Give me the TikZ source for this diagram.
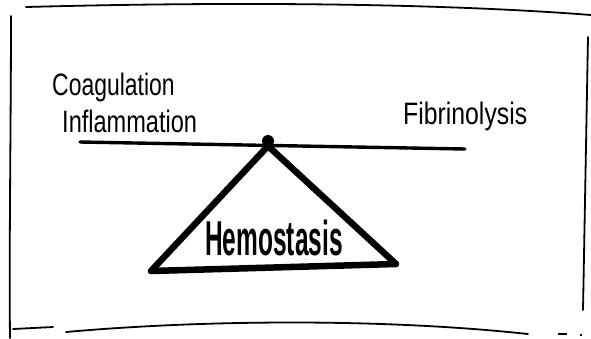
\documentclass[tikz,border=0pt]{standalone}
\usepackage{fontspec}
\usepackage{graphicx}
\setmainfont{Liberation Sans}
\tikzset{
  frameline/.style={line width=1.8pt, line cap=round, black},
  beamline/.style={line width=3.4pt, line cap=round, black},
  triline/.style={line width=6.5pt, line join=round, line cap=round, black},
  label/.style={inner sep=0pt, anchor=base west, text=black},
}
\begin{document}
\begin{tikzpicture}[x=1pt, y=-1pt]
\useasboundingbox (0,0) rectangle (591,338);
\fill[white] (0,0) rectangle (591,338);
% frame
\draw[frameline] (26,7) .. controls (250,1) and (450,4) .. (591,15);
\draw[frameline] (11,16) .. controls (11,120) and (9,250) .. (10,338);
\draw[frameline] (588,37) -- (583,310);
\draw[frameline] (13,329) -- (53,327);
\draw[frameline] (66,332) .. controls (200,320) and (380,318) .. (528,334);
\draw[line width=1.2pt] (558,334) -- (567,334);
\draw[line width=1.2pt] (580,335) -- (582,335);
% balance
\coordinate (apex) at (268,146);
\coordinate (bl) at (151,271);
\coordinate (br) at (396,264);
\coordinate (beamL) at (80,142);
\coordinate (beamR) at (465,149);
\draw[beamline] (beamL) -- (beamR);
\draw[triline] (apex) -- (br) -- (bl) -- cycle;
\node[circle, fill=black, inner sep=0pt, minimum size=12pt] (pivot) at (268,141) {};
% labels
\node[label] (coag) at (52,95) {\scalebox{0.74}[1]{\fontsize{31}{32}\selectfont Coagulation}};
\node[label] (infl) at (62,132) {\scalebox{0.76}[1]{\fontsize{31}{32}\selectfont Inflammation}};
\node[label] (fibr) at (403,124) {\scalebox{0.80}[1]{\fontsize{31}{32}\selectfont Fibrinolysis}};
\node[label] (hemo) at (205,255) {\scalebox{0.5}[1]{\fontsize{49}{50}\selectfont\bfseries Hemostasis}};
\end{tikzpicture}
\end{document}
